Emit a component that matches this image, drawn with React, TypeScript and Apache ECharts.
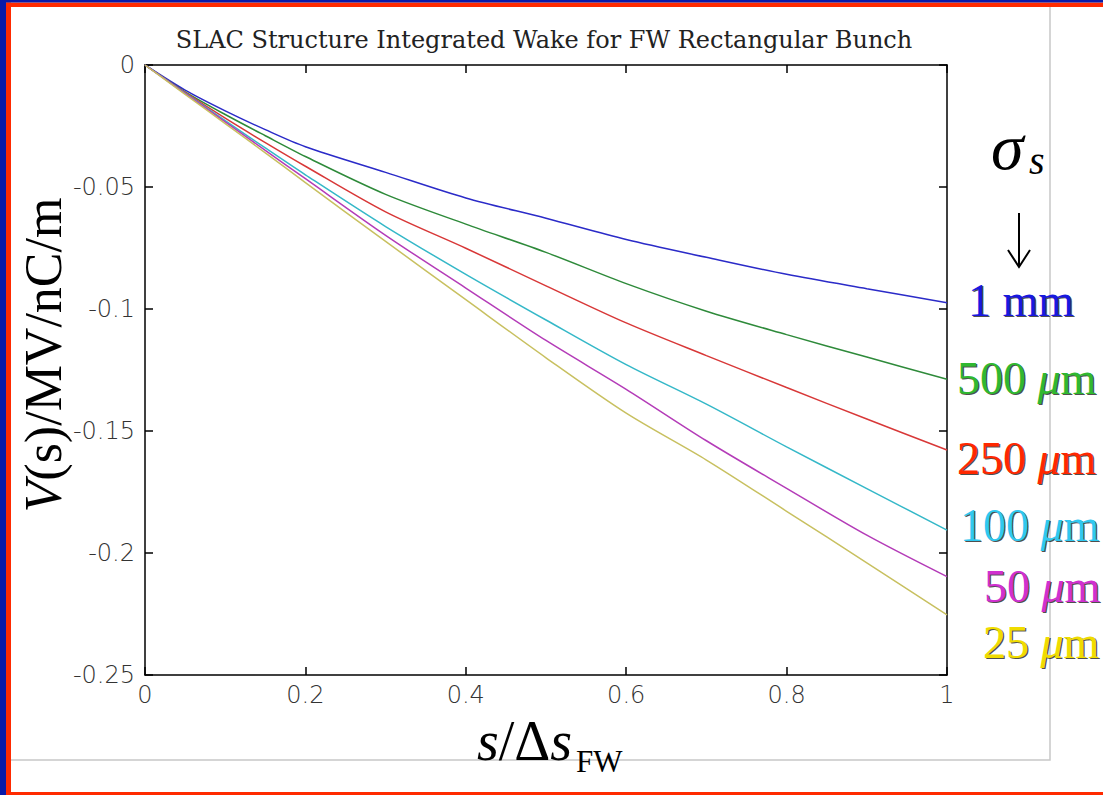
import React, { useEffect, useRef } from "react";
import * as echarts from "echarts";

// s / Δs_FW
const xs = [0, 0.05, 0.1, 0.15, 0.2, 0.3, 0.4, 0.5, 0.6, 0.7, 0.8, 0.9, 1.0];

// V(s) in MV/nC/m, one array per bunch length σs
const v1mm = [0, -0.0103, -0.0188, -0.0265, -0.0335, -0.044, -0.0545, -0.0628, -0.0715, -0.0788, -0.0858, -0.0917, -0.0974];
const v500um = [0, -0.011, -0.0203, -0.029, -0.0375, -0.053, -0.0652, -0.0768, -0.0896, -0.1009, -0.1105, -0.1197, -0.1288];
const v250um = [0, -0.0112, -0.0218, -0.0318, -0.0415, -0.0602, -0.0751, -0.0905, -0.1057, -0.1191, -0.1322, -0.1451, -0.1578];
const v100um = [0, -0.0115, -0.0228, -0.034, -0.045, -0.0662, -0.0858, -0.1045, -0.1228, -0.139, -0.1565, -0.1736, -0.1906];
const v50um = [0, -0.0117, -0.0233, -0.035, -0.0466, -0.0698, -0.0914, -0.1129, -0.1329, -0.154, -0.1735, -0.1927, -0.2097];
const v25um = [0, -0.012, -0.024, -0.036, -0.0482, -0.0723, -0.0962, -0.12, -0.1427, -0.1619, -0.1829, -0.204, -0.2254];

const seriesNames = ["1 mm", "500 μm", "250 μm", "100 μm", "50 μm", "25 μm"];
const seriesValues = [v1mm, v500um, v250um, v100um, v50um, v25um];
const lineColors = ["#2b2bc8", "#2e8a3a", "#d83838", "#35b8c8", "#b43cb8", "#c8c060"];

const labelNumbers = ["1 ", "500 ", "250 ", "100 ", "50 ", "25 "];
const labelUnits = ["mm", "μ", "μ", "μ", "μ", "μ"];
const labelColors = ["#1818e0", "#30b830", "#ff2800", "#30c8f0", "#d030d0", "#f0dc00"];

const titleText = "SLAC Structure Integrated Wake for FW Rectangular Bunch";

export default function App() {
  const ref = useRef<HTMLDivElement>(null);

  useEffect(() => {
    if (!ref.current) return;
    const chart = echarts.init(ref.current, null, { renderer: "svg" });

    const tickFont = {
      fontFamily: "DejaVu Sans",
      fontWeight: 200 as any,
      fontSize: 24,
      color: "#333",
    };

    const labelPos = [
      { x: 968, y: 300 },
      { x: 957, y: 378 },
      { x: 957, y: 458 },
      { x: 960, y: 525 },
      { x: 984, y: 586 },
      { x: 983, y: 642 },
    ];

    const makeLabel = (i: number, dx: number, color: string, z: number, opacity: number) => {
      const isMm = labelUnits[i] === "mm";
      return {
        type: "text",
        x: labelPos[i].x + dx,
        y: labelPos[i].y + dx,
        z,
        silent: true,
        style: {
          text: isMm
            ? `{n|${labelNumbers[i]}mm}`
            : `{n|${labelNumbers[i]}}{i|μ}{n|m}`,
          verticalAlign: "middle",
          align: "left",
          opacity,
          rich: {
            n: { fontFamily: "Liberation Serif", fontSize: 46, fill: color, color },
            i: { fontFamily: "Liberation Serif", fontStyle: "italic", fontSize: 46, fill: color, color },
          },
        },
      };
    };

    const labelGraphics: any[] = [];
    seriesNames.forEach((_, i) => {
      labelGraphics.push(makeLabel(i, 1.2, "#000", 9, 0.7));
      labelGraphics.push(makeLabel(i, 0, labelColors[i], 10, 1));
    });

    const axisCommon = {
      type: "value",
      axisLine: { show: true, onZero: false, lineStyle: { color: "#000", width: 1.5 } },
      axisTick: { show: true, inside: true, length: 8, lineStyle: { color: "#000", width: 1.5 } },
      splitLine: { show: false },
    };

    chart.setOption({
      animation: false,
      backgroundColor: "#ffffff",
      grid: { left: 145, right: 156, top: 65, bottom: 120, containLabel: false },
      xAxis: [
        { ...axisCommon, min: 0, max: 1, interval: 0.2, position: "bottom", axisLabel: { ...tickFont, margin: 8 } },
        { ...axisCommon, min: 0, max: 1, interval: 0.2, position: "top", axisLabel: { show: false } },
      ],
      yAxis: [
        { ...axisCommon, min: -0.25, max: 0, interval: 0.05, position: "left", axisLabel: { ...tickFont, margin: 10 } },
        { ...axisCommon, min: -0.25, max: 0, interval: 0.05, position: "right", axisLabel: { show: false } },
      ],
      series: seriesValues.map((vals, i) => ({
        name: seriesNames[i],
        type: "line",
        xAxisIndex: 0,
        yAxisIndex: 0,
        data: xs.map((x, k) => [x, vals[k]]),
        showSymbol: false,
        smooth: 0.3,
        lineStyle: { color: lineColors[i], width: 1.5 },
        itemStyle: { color: lineColors[i] },
      })),
      graphic: [
        // picture frame (light gray)
        {
          type: "polyline",
          z: -1,
          shape: { points: [[11, 760], [1050, 760], [1050, 7]] },
          style: { stroke: "#c8c8c8", lineWidth: 1.5, fill: null },
        },
        // slide borders
        { type: "rect", z: 20, shape: { x: 0, y: 0, width: 1103, height: 2.5 }, style: { fill: "#0a1aa8" } },
        { type: "rect", z: 20, shape: { x: 0, y: 0, width: 6, height: 795 }, style: { fill: "#0a1aa8" } },
        { type: "rect", z: 19, shape: { x: 6, y: 2.5, width: 1097, height: 4.5 }, style: { fill: "#ff2a00" } },
        { type: "rect", z: 19, shape: { x: 6, y: 2.5, width: 5, height: 792.5 }, style: { fill: "#ff2a00" } },
        { type: "rect", z: 19, shape: { x: 6, y: 792, width: 1097, height: 3 }, style: { fill: "#ff2a00" } },
        // title
        {
          type: "text",
          x: 544,
          y: 40,
          style: {
            text: titleText,
            align: "center",
            verticalAlign: "middle",
            fontFamily: "DejaVu Serif",
            fontSize: 24,
            fontWeight: "normal",
            fill: "#222",
          },
        },
        // y axis title
        {
          type: "text",
          x: 43,
          y: 355,
          rotation: Math.PI / 2,
          style: {
            text: "{i|V}{n|(s)/MV/nC/m}",
            align: "center",
            verticalAlign: "middle",
            rich: {
              i: { fontFamily: "Liberation Serif", fontStyle: "italic", fontSize: 52, fill: "#000", color: "#000" },
              n: { fontFamily: "Liberation Serif", fontSize: 52, fill: "#000", color: "#000" },
            },
          },
        },
        // x axis title
        {
          type: "text",
          x: 477,
          y: 769,
          style: {
            text: "{i|s}{n|/Δ}{i|s}",
            align: "left",
            verticalAlign: "bottom",
            rich: {
              i: { fontFamily: "Liberation Serif", fontStyle: "italic", fontSize: 56, fill: "#000", color: "#000" },
              n: { fontFamily: "Liberation Serif", fontSize: 56, fill: "#000", color: "#000" },
            },
          },
        },
        {
          type: "text",
          x: 576,
          y: 777,
          style: {
            text: "FW",
            align: "left",
            verticalAlign: "bottom",
            fontFamily: "Liberation Serif",
            fontSize: 31,
            fill: "#000",
          },
        },
        // sigma_s
        {
          type: "text",
          x: 991,
          y: 146,
          style: {
            text: "σ",
            align: "left",
            verticalAlign: "middle",
            fontFamily: "Liberation Serif",
            fontStyle: "italic",
            fontSize: 66,
            fill: "#000",
          },
        },
        {
          type: "text",
          x: 1029,
          y: 160,
          style: {
            text: "s",
            align: "left",
            verticalAlign: "middle",
            fontFamily: "Liberation Serif",
            fontStyle: "italic",
            fontSize: 40,
            fill: "#000",
          },
        },
        // arrow
        {
          type: "line",
          shape: { x1: 1019, y1: 213, x2: 1019, y2: 266 },
          style: { stroke: "#000", lineWidth: 2 },
        },
        {
          type: "polyline",
          shape: { points: [[1008, 250], [1019, 267], [1030, 250]] },
          style: { stroke: "#000", lineWidth: 2, fill: null },
        },
        ...labelGraphics,
      ],
    });

    return () => chart.dispose();
  }, []);

  return (
    <div
      ref={ref}
      style={{ position: "fixed", left: 0, top: 0, width: 1103, height: 795, background: "#fff" }}
    />
  );
}
